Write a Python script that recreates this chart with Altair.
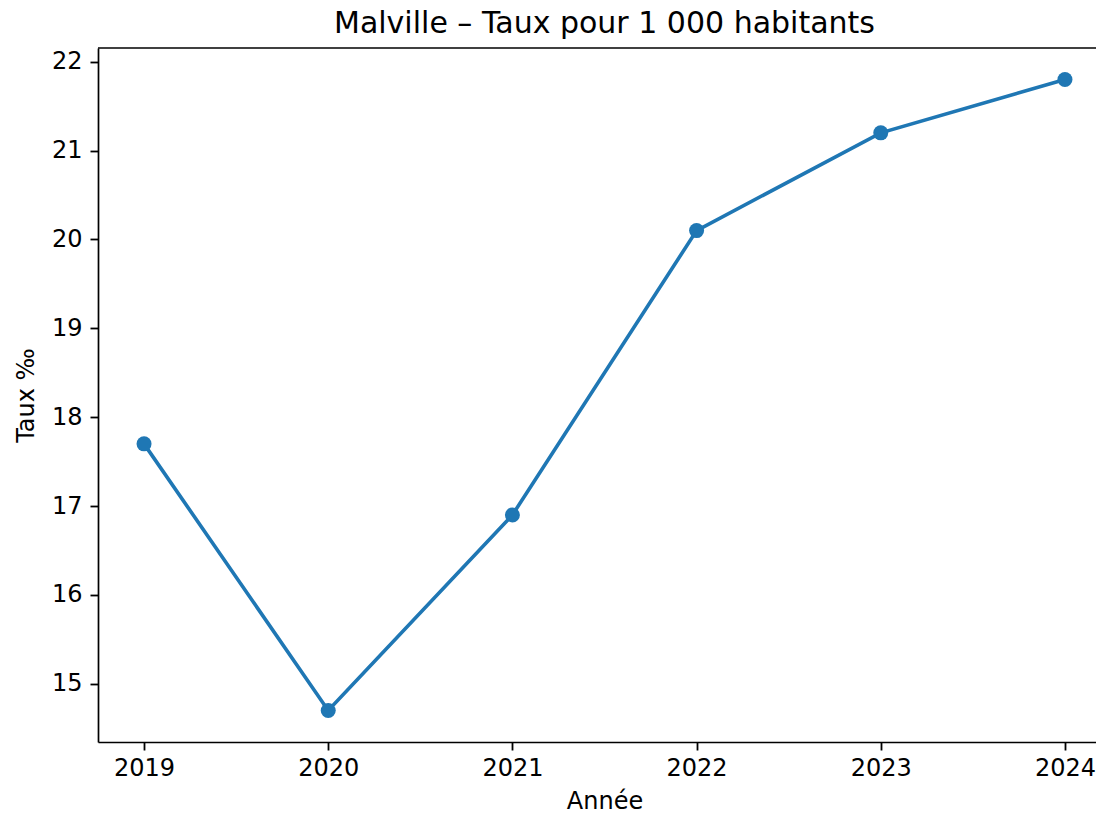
import altair as alt
import pandas as pd

years = [2019, 2020, 2021, 2022, 2023, 2024]
taux = [17.7, 14.7, 16.9, 20.1, 21.2, 21.8]
y_ticks = [15, 16, 17, 18, 19, 20, 21, 22]
title_text = "Malville – Taux pour 1 000 habitants"

df = pd.DataFrame({"Année": years, "Taux": taux})

FONT = "DejaVu Sans"
BLUE = "#1f77b4"
W, H = 1013, 694

x = alt.X("Année:Q",
          scale=alt.Scale(domain=[2018.75, 2024.25], nice=False, zero=False),
          axis=alt.Axis(values=years, format="d", title="Année", grid=False,
                        domain=True, domainColor="black", domainWidth=1.7,
                        tickColor="black", tickWidth=1.8, tickSize=8,
                        labelFontSize=24, labelFont=FONT, labelColor="black", labelPadding=6,
                        titleFontSize=24, titleFont=FONT, titleFontWeight="normal",
                        titleColor="black", titlePadding=9))
y = alt.Y("Taux:Q",
          scale=alt.Scale(domain=[14.345, 22.155], nice=False, zero=False),
          axis=alt.Axis(values=y_ticks, format="d", title="Taux ‰", grid=False,
                        domain=True, domainColor="black", domainWidth=1.7,
                        tickColor="black", tickWidth=1.8, tickSize=8,
                        labelFontSize=24, labelFont=FONT, labelColor="black", labelPadding=8,
                        titleFontSize=24, titleFont=FONT, titleFontWeight="normal",
                        titleColor="black", titlePadding=13))

base = alt.Chart(df).encode(x=x, y=y)
line = base.mark_line(color=BLUE, strokeWidth=3.6)
pts = base.mark_point(color=BLUE, filled=True, opacity=1, size=225)

one = pd.DataFrame({"t": [title_text]})
top_spine = alt.Chart(one).mark_rule(color="black", strokeWidth=1.7).encode(
    x=alt.value(0), x2=alt.value(W), y=alt.value(0))
title = alt.Chart(one).mark_text(font=FONT, fontSize=30, color="black",
                                 align="center", baseline="alphabetic").encode(
    text="t:N", x=alt.value(W / 2), y=alt.value(-15))

chart = (line + pts + top_spine + title).properties(
    width=W, height=H,
    autosize=alt.AutoSizeParams(type="none"),
    padding={"left": 90, "top": 40, "right": -15, "bottom": 68},
    background="white",
).configure_view(stroke=None)

chart.save("out.html", embed_options={"renderer": "svg", "actions": False})
